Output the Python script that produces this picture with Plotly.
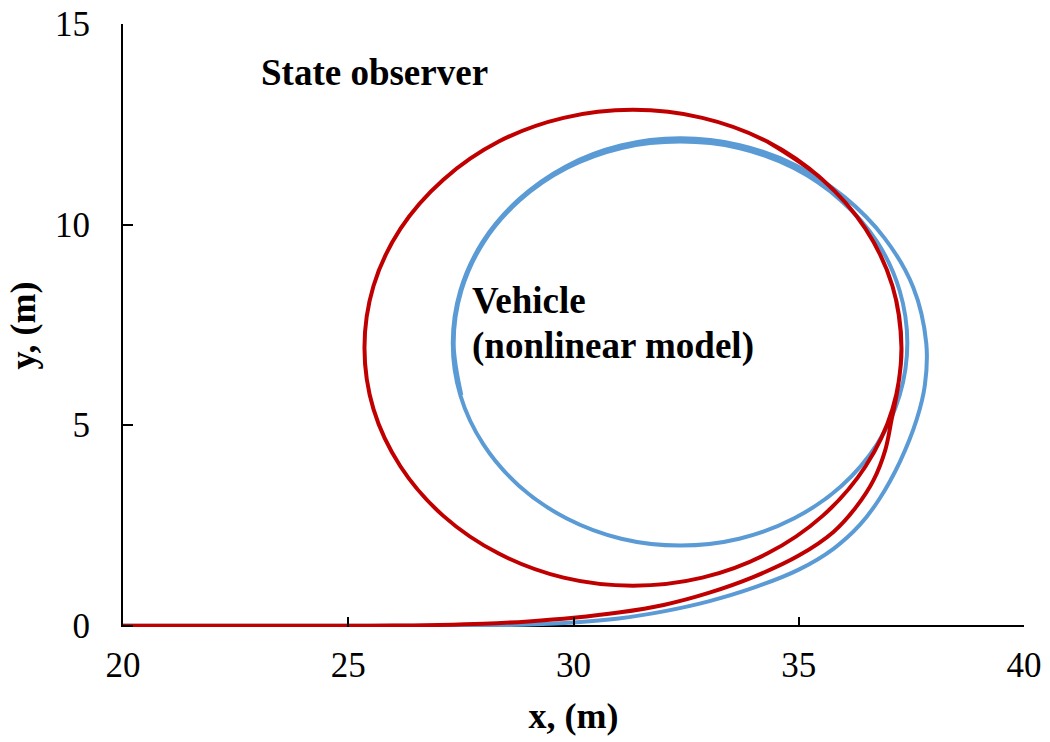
import plotly.graph_objects as go

# Vehicle trajectory (nonlinear model): straight run-in, then a spiral that settles on a circle
vehicle_x = [20.0, 22.0, 24.0, 25.0, 26.0, 27.0, 28.0, 29.0, 30.0, 31.0, 32.0, 33.0,
             34.0, 35.0, 35.77, 36.36, 36.80, 37.25, 37.62, 37.80, 37.83, 37.54,
             36.90, 36.01, 34.93, 33.69, 32.37, 31.05, 29.83, 28.79, 27.99, 27.49,
             27.32, 27.49, 28.00, 28.80, 29.84, 31.06, 32.37, 33.68, 34.90, 35.94,
             36.74, 37.24, 37.41, 37.24, 36.74, 35.93, 34.89, 33.67, 32.37, 31.07,
             29.85, 28.81, 28.01, 27.51, 27.34, 27.51]
vehicle_y = [0.0, 0.0, 0.0, 0.0, 0.0, 0.0, 0.01, 0.03, 0.08, 0.18, 0.36, 0.61,
             0.95, 1.40, 1.92, 2.52, 3.18, 4.10, 5.15, 6.00, 7.05, 8.44,
             9.67, 10.69, 11.48, 11.98, 12.15, 11.97, 11.45, 10.63, 9.58, 8.36,
             7.05, 5.74, 4.52, 3.48, 2.68, 2.17, 2.00, 2.17, 2.68, 3.48,
             4.53, 5.75, 7.05, 8.35, 9.57, 10.61, 11.41, 11.91, 12.07, 11.91,
             11.41, 10.61, 9.57, 8.35, 7.05, 5.75]

# State observer estimate of the same manoeuvre
observer_x = [20.0, 22.0, 24.0, 25.0, 26.0, 27.0, 28.0, 29.0, 30.0, 31.0, 32.0, 33.0,
              34.0, 35.0, 35.77, 36.28, 36.66, 36.92, 37.06, 37.20, 37.28, 37.08,
              36.48, 35.53, 34.30, 32.86, 31.32, 29.78, 28.34, 27.11, 26.16, 25.56,
              25.36, 25.56, 26.16, 27.11, 28.34, 29.78, 31.32, 32.86, 34.30, 35.53,
              36.48, 37.08, 37.28, 37.08, 36.48, 35.53, 34.30]
observer_y = [0.0, 0.0, 0.0, 0.0, 0.005, 0.02, 0.05, 0.11, 0.20, 0.33, 0.52, 0.82,
              1.22, 1.75, 2.34, 2.97, 3.63, 4.38, 5.13, 5.94, 6.93, 8.47,
              9.90, 11.12, 12.07, 12.66, 12.86, 12.66, 12.07, 11.12, 9.90, 8.47,
              6.93, 5.40, 3.97, 2.74, 1.80, 1.20, 1.00, 1.20, 1.80, 2.74,
              3.97, 5.40, 6.93, 8.47, 9.90, 11.12, 12.07]

x_ticks = [20, 25, 30, 35, 40]
y_ticks = [0, 5, 10, 15]

FONT = "Liberation Serif, Times New Roman, serif"

fig = go.Figure()
fig.add_trace(go.Scatter(
    x=vehicle_x, y=vehicle_y, mode="lines", name="Vehicle",
    line=dict(color="#5B9BD5", width=4, shape="spline", smoothing=1.0),
))
fig.add_trace(go.Scatter(
    x=observer_x, y=observer_y, mode="lines", name="State observer",
    line=dict(color="#C00000", width=4, shape="spline", smoothing=1.0),
))

fig.add_annotation(x=23.02, y=13.78, xref="x", yref="y", text="<b>State observer</b>",
                   showarrow=False, xanchor="left", yanchor="middle",
                   font=dict(family=FONT, size=37, color="black"))
fig.add_annotation(x=27.70, y=8.12, xref="x", yref="y", text="<b>Vehicle</b>",
                   showarrow=False, xanchor="left", yanchor="middle",
                   font=dict(family=FONT, size=37, color="black"))
fig.add_annotation(x=27.70, y=6.97, xref="x", yref="y", text="<b>(nonlinear model)</b>",
                   showarrow=False, xanchor="left", yanchor="middle",
                   font=dict(family=FONT, size=37, color="black"))

fig.update_layout(
    width=1050, height=742,
    margin=dict(l=123, r=26, t=24, b=115),
    paper_bgcolor="white", plot_bgcolor="white",
    showlegend=False,
    font=dict(family=FONT, color="black"),
)
fig.update_xaxes(
    range=[20, 40], tickvals=x_ticks, ticktext=[str(v) for v in x_ticks],
    showgrid=False, zeroline=False, showline=False, automargin=False,
    ticks="inside", ticklen=10, tickwidth=2, tickcolor="black",
    tickfont=dict(family=FONT, size=35, color="black"), ticklabelstandoff=14,
    title=dict(text="<b>x, (m)</b>", font=dict(family=FONT, size=36, color="black"), standoff=18),
)
fig.update_yaxes(
    range=[-0.03, 15], tickvals=y_ticks, ticktext=[str(v) for v in y_ticks],
    showgrid=False, zeroline=True, zerolinecolor="black", zerolinewidth=2,
    showline=True, linecolor="black", linewidth=2, automargin=False,
    ticks="inside", ticklen=10, tickwidth=2, tickcolor="black",
    tickfont=dict(family=FONT, size=35, color="black"), ticklabelstandoff=24,
    title=dict(text="<b>y, (m)</b>", font=dict(family=FONT, size=36, color="black"), standoff=8),
)

fig.write_html("out.html")
